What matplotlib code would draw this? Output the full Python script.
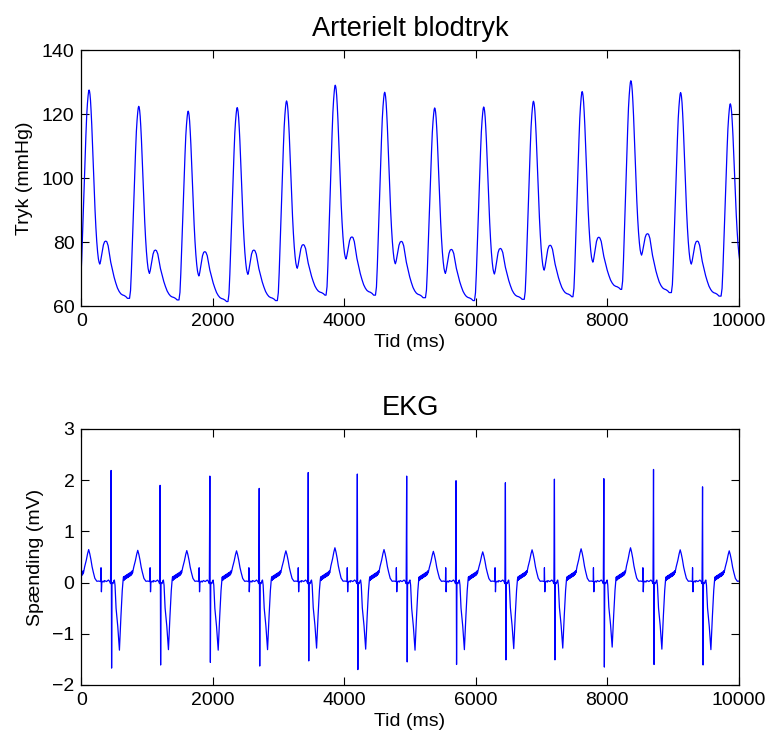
import numpy as np
import matplotlib
matplotlib.use("Agg")
import matplotlib.pyplot as plt

plt.rcParams['font.family'] = ['Liberation Sans', 'DejaVu Sans']

# --- arterial pressure: one entry per beat ---
bp_peak_t = [116, 872, 1624, 2370, 3121, 3862, 4614, 5375, 6121, 6878, 7619, 8360, 9117, 9873]
bp_peak = [127.5, 122.4, 120.9, 122.0, 124.1, 129.0, 126.8, 121.9, 122.2, 124.0, 127.0, 130.4, 126.7, 123.2]
bp_foot = [66.0, 62.4, 61.9, 61.4, 61.7, 63.4, 63.4, 62.6, 61.7, 62.1, 62.9, 65.2, 64.2, 63.1]
bp_notch = [73.1, 70.2, 69.4, 69.9, 71.8, 74.7, 73.2, 70.2, 70.0, 71.2, 73.7, 75.9, 73.1, 73.0]
bp_dic = [80.3, 77.5, 77.0, 77.5, 79.2, 81.6, 80.2, 77.7, 78.0, 79.0, 81.5, 82.6, 80.3, 80.0]
bp_min = [62.4, 61.9, 61.4, 61.7, 63.4, 63.4, 62.6, 61.7, 62.1, 62.9, 65.2, 64.2, 63.1, 63.0]

# beat shape (ms from systolic peak, fraction of the local swing)
rise_t = [-140, -125, -112, -99, -86, -73, -61, -48, -36, -25, -15, -7, 0]
rise_f = [0.0, 0.04, 0.14, 0.27, 0.40, 0.53, 0.66, 0.77, 0.87, 0.93, 0.97, 0.993, 1.0]
fall_t = [7, 14, 22, 31, 41, 53, 66, 79, 91, 104, 117, 130, 142, 153, 163]
fall_f = [0.993, 0.975, 0.94, 0.88, 0.80, 0.68, 0.55, 0.43, 0.31, 0.21, 0.13, 0.07, 0.03, 0.01, 0.0]
dic_t = [175, 188, 203, 218, 236, 254, 270]
dic_f = [0.12, 0.34, 0.60, 0.83, 0.97, 1.0, 0.97]
decay_t = [290, 310, 330, 355, 381, 406, 432, 458, 483, 508, 533, 560, 584]
decay_f = [0.92, 0.78, 0.63, 0.50, 0.37, 0.27, 0.18, 0.12, 0.08, 0.06, 0.05, 0.03, 0.0]

# --- EKG: one entry per beat ---
ekg_r_t = [-296, 451, 1197, 1954, 2705, 3451, 4198, 4949, 5700, 6451, 7197, 7949, 8705, 9451]
ekg_r = [2.0, 2.19, 1.90, 2.08, 1.84, 2.15, 2.12, 2.08, 1.99, 1.95, 2.02, 2.03, 2.21, 1.87]
ekg_s = [-1.6, -1.67, -1.61, -1.56, -1.63, -1.53, -1.70, -1.55, -1.60, -1.51, -1.51, -1.65, -1.60, -1.61]
ekg_q = [-1.3, -1.32, -1.31, -1.32, -1.31, -1.28, -1.30, -1.32, -1.31, -1.29, -1.28, -1.26, -1.30, -1.31]
ekg_tw = [0.645, 0.63, 0.625, 0.62, 0.62, 0.68, 0.645, 0.61, 0.60, 0.64, 0.66, 0.68, 0.64, 0.62]

# EKG beat shape (ms from R spike)
pre_t = [-100, -70, -40, -20, -8]
pre_v = [0.04, 0.02, 0.05, 0.02, -0.02]
qrs_t = [14, 30, 40, 50, 60]
qrs_v = [0.0, -0.02, 0.03, 0.05, -0.05]
dip_t = [76, 102, 127, 150, 170]
dip_f = [0.38, 0.65, 1.0, 0.5, 0.12]
hatch_t = [183, 189, 195, 201, 207, 213, 219, 225, 231, 237, 243, 249, 255, 261,
           267, 273, 279, 285, 291, 297, 303, 309, 315, 321, 327]
hatch_v = [0.05, 0.11, 0.04, 0.12, 0.06, 0.13, 0.07, 0.14, 0.08, 0.15, 0.09, 0.16, 0.10, 0.17,
           0.11, 0.18, 0.12, 0.19, 0.13, 0.20, 0.14, 0.21, 0.16, 0.23, 0.19]
tw_t = [345, 370, 390, 406, 422, 440, 458, 476, 500, 530]
tw_f = [0.48, 0.68, 0.88, 1.0, 0.88, 0.70, 0.48, 0.32, 0.13, 0.04]
post_t = [560, 590, 594, 600, 606, 625, 640]
post_v = [0.03, 0.02, 0.29, -0.18, 0.0, 0.03, 0.01]

bp_t, bp_v = [], []
for i in range(len(bp_peak_t)):
    p, pk, ft = bp_peak_t[i], bp_peak[i], bp_foot[i]
    nt, dc, mn = bp_notch[i], bp_dic[i], bp_min[i]
    bp_t += [p + o for o in rise_t]
    bp_v += [ft + f * (pk - ft) for f in rise_f]
    bp_t += [p + o for o in fall_t]
    bp_v += [nt + f * (pk - nt) for f in fall_f]
    bp_t += [p + o for o in dic_t]
    bp_v += [nt + f * (dc - nt) for f in dic_f]
    if i < len(bp_peak_t) - 1:
        bp_t += [p + o for o in decay_t]
        bp_v += [mn + f * (dc - mn) for f in decay_f]

ek_t, ek_v = [], []
for i in range(len(ekg_r_t)):
    r = ekg_r_t[i]
    ek_t += [r + o for o in pre_t]
    ek_v += pre_v
    ek_t += [r, r + 8]
    ek_v += [ekg_r[i], ekg_s[i]]
    ek_t += [r + o for o in qrs_t]
    ek_v += qrs_v
    ek_t += [r + o for o in dip_t]
    ek_v += [f * ekg_q[i] for f in dip_f]
    ek_t += [r + o for o in hatch_t]
    ek_v += hatch_v
    ek_t += [r + o for o in tw_t]
    ek_v += [f * ekg_tw[i] for f in tw_f]
    ek_t += [r + o for o in post_t]
    ek_v += post_v

fig = plt.figure(figsize=(7.69, 7.39), dpi=100)
ax1 = fig.add_axes([0.1059, 0.5859, 0.8546, 0.3464])
ax2 = fig.add_axes([0.1059, 0.0731, 0.8546, 0.3464])

ax1.plot(bp_t, bp_v, color='#0000ff', lw=0.9)
ax1.set_xlim(0, 10000)
ax1.set_ylim(60, 140)
ax1.set_yticks([60, 80, 100, 120, 140])
ax1.set_title('Arterielt blodtryk', fontsize=19.5, pad=10)
ax1.set_ylabel('Tryk (mmHg)', fontsize=14, labelpad=6)

ax2.plot(ek_t, ek_v, color='#0000ff', lw=0.9)
ax2.set_xlim(0, 10000)
ax2.set_ylim(-2, 3)
ax2.set_yticks([-2, -1, 0, 1, 2, 3])
ax2.set_title('EKG', fontsize=19.5, pad=10)
ax2.set_ylabel('Spænding (mV)', fontsize=14, labelpad=6)

for ax in (ax1, ax2):
    ax.set_xticks([0, 2000, 4000, 6000, 8000, 10000])
    ax.set_xlabel('Tid (ms)', fontsize=14, labelpad=3)
    ax.tick_params(direction='in', top=True, right=True, length=6, width=0.8,
                   labelsize=14, pad=5)
    for s in ax.spines.values():
        s.set_linewidth(0.9)

fig.savefig('out.png', dpi=100)
